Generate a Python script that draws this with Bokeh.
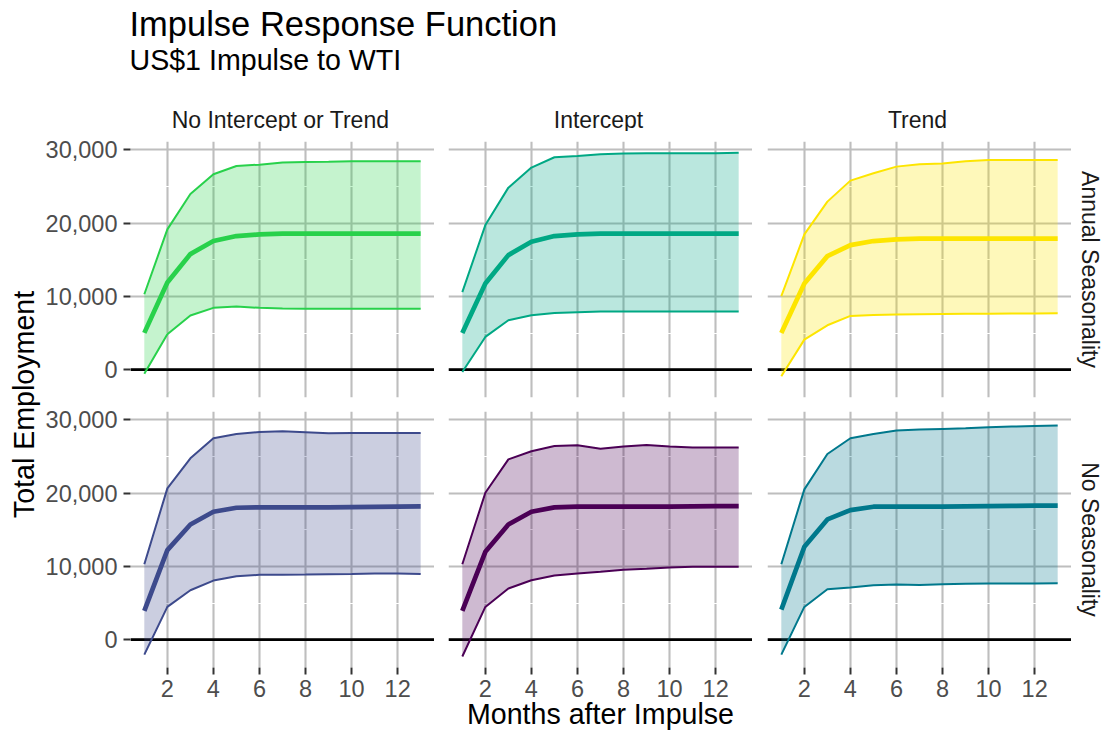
import math
from bokeh.plotting import figure
from bokeh.layouts import row, column
from bokeh.models import Range1d, FixedTicker, NumeralTickFormatter, Span, Label
from bokeh.embed import file_html
from bokeh.resources import INLINE

# ---------------- data ----------------
months = [1, 2, 3, 4, 5, 6, 7, 8, 9, 10, 11, 12, 13]

col_labels = ["No Intercept or Trend", "Intercept", "Trend"]
row_labels = ["Annual Seasonality", "No Seasonality"]
x_title = "Months after Impulse"
y_title = "Total Employment"

# Annual Seasonality
ann_none_lo = [-550, 4830, 7390, 8440, 8620, 8440, 8350, 8300, 8300, 8300, 8300, 8300, 8300]
ann_none_mid = [5020, 11900, 15780, 17560, 18240, 18470, 18560, 18560, 18560, 18560, 18560, 18560, 18560]
ann_none_hi = [10300, 19150, 23990, 26680, 27800, 27990, 28270, 28360, 28400, 28450, 28450, 28450, 28450]

ann_int_lo = [-320, 4470, 6750, 7430, 7750, 7840, 7930, 7930, 7930, 7930, 7930, 7930, 7930]
ann_int_mid = [5020, 11760, 15640, 17460, 18240, 18470, 18560, 18560, 18560, 18560, 18560, 18560, 18560]
ann_int_hi = [10580, 19740, 24850, 27590, 29000, 29180, 29410, 29500, 29550, 29550, 29550, 29550, 29600]

ann_trend_lo = [-910, 4100, 6060, 7340, 7480, 7520, 7560, 7600, 7620, 7640, 7660, 7680, 7700]
ann_trend_mid = [5020, 11760, 15500, 17010, 17560, 17780, 17880, 17880, 17880, 17880, 17880, 17880, 17880]
ann_trend_hi = [10030, 18470, 22940, 25810, 26810, 27720, 28040, 28140, 28450, 28640, 28640, 28640, 28640]

# No Seasonality
no_none_lo = [-2050, 4470, 6750, 8070, 8650, 8850, 8870, 8900, 8940, 8980, 9030, 9030, 8980]
no_none_mid = [3920, 12220, 15730, 17460, 18010, 18060, 18060, 18060, 18060, 18100, 18140, 18170, 18190]
no_none_hi = [10300, 20660, 24760, 27500, 28090, 28360, 28450, 28320, 28180, 28230, 28230, 28230, 28230]

no_int_lo = [-2300, 4470, 6980, 8120, 8760, 9030, 9260, 9530, 9670, 9850, 9940, 9940, 9940]
no_int_mid = [3920, 11990, 15730, 17460, 18060, 18150, 18150, 18150, 18150, 18170, 18200, 18220, 18240]
no_int_hi = [10300, 20060, 24620, 25720, 26450, 26540, 26080, 26360, 26580, 26360, 26220, 26220, 26220]

no_trend_lo = [-2050, 4470, 6890, 7110, 7430, 7520, 7480, 7570, 7620, 7660, 7660, 7680, 7700]
no_trend_mid = [4100, 12680, 16420, 17690, 18150, 18150, 18150, 18150, 18200, 18240, 18270, 18290, 18290]
no_trend_hi = [10300, 20520, 25350, 27500, 28090, 28550, 28680, 28770, 28860, 29000, 29090, 29180, 29230]

x_major = [2, 4, 6, 8, 10, 12]
x_minor = [1, 3, 5, 7, 9, 11, 13]
y_major = [0, 10000, 20000, 30000]
y_minor = [5000, 15000, 25000]

colors = [["#28D14B", "#00A884", "#FDE500"],
          ["#3D4A8C", "#4B0055", "#00788C"]]

series = [[(ann_none_lo, ann_none_mid, ann_none_hi),
           (ann_int_lo, ann_int_mid, ann_int_hi),
           (ann_trend_lo, ann_trend_mid, ann_trend_hi)],
          [(no_none_lo, no_none_mid, no_none_hi),
           (no_int_lo, no_int_mid, no_int_hi),
           (no_trend_lo, no_trend_mid, no_trend_hi)]]

FONT = "Liberation Sans"
TICK_FS = "23.5px"
STRIP_FS = "23px"
AXT_FS = "28.6px"
FW, FH = 304, 256
LEFT_B = [86, 14, 15]
TOP_B = 10
GAP_A = 7   # below top-row frames
GAP_B = 7   # above bottom-row frames
W_TOTAL, H_TOTAL = 1107, 733
HEADER_H = 141 - TOP_B
YLAB_W = 42
TOP_ROW_H = TOP_B + FH + GAP_A
BOT_B = H_TOTAL - HEADER_H - TOP_ROW_H - GAP_B - FH


def panel(r, c):
    bottom = r == 1
    left = c == 0
    p = figure(frame_width=FW, frame_height=FH,
               x_range=Range1d(0.4, 13.6), y_range=Range1d(-3800, 31150),
               x_axis_location="below" if bottom else None,
               y_axis_location="left" if left else None,
               min_border_left=LEFT_B[c], min_border_right=0,
               min_border_top=GAP_B if bottom else TOP_B,
               min_border_bottom=BOT_B if bottom else GAP_A,
               toolbar_location=None, output_backend="svg")
    p.outline_line_color = None
    p.background_fill_color = "white"
    p.border_fill_color = "white"
    xt = FixedTicker(ticks=x_major, minor_ticks=x_minor)
    yt = FixedTicker(ticks=y_major, minor_ticks=y_minor)
    for g in p.xgrid:
        g.ticker = xt
        if g.axis is not None:
            g.axis.ticker = xt
    for g in p.ygrid:
        g.ticker = yt
        if g.axis is not None:
            g.axis.ticker = yt
    for g in list(p.xgrid) + list(p.ygrid):
        g.grid_line_color = "#BEBEBE"
        g.grid_line_width = 2.1
        g.minor_grid_line_color = "white"
        g.minor_grid_line_width = 1.1
    axes = []
    if bottom:
        axes.append(p.xaxis[0])
    if left:
        ya = p.yaxis[0]
        ya.formatter = NumeralTickFormatter(format="0,0")
        axes.append(ya)
    for ax in axes:
        ax.axis_line_color = None
        ax.major_tick_out = 7
        ax.major_tick_in = 0
        ax.major_tick_line_color = "#333333"
        ax.major_tick_line_width = 2
        ax.minor_tick_line_color = None
        ax.major_label_text_font = FONT
        ax.major_label_text_font_size = TICK_FS
        ax.major_label_text_color = "#4D4D4D"
    if bottom:
        xa = p.xaxis[0]
        xa.major_label_standoff = 5
        if c == 1:
            xa.axis_label = x_title
            xa.axis_label_text_font = FONT
            xa.axis_label_text_font_size = AXT_FS
            xa.axis_label_text_font_style = "normal"
            xa.axis_label_text_color = "black"
            xa.axis_label_standoff = -2
    if left:
        p.yaxis[0].major_label_standoff = 6

    lo, mid, hi = series[r][c]
    col = colors[r][c]
    p.add_layout(Span(location=0, dimension="width", line_color="black",
                      line_width=2.6, level="underlay"))
    p.varea(x=months, y1=lo, y2=hi, fill_color=col, fill_alpha=0.27)
    p.line(months, hi, line_color=col, line_width=2)
    p.line(months, lo, line_color=col, line_width=2)
    p.line(months, mid, line_color=col, line_width=4.7)
    return p


def text_fig(w, h):
    p = figure(width=w, height=h, x_range=Range1d(0, w), y_range=Range1d(0, h),
               min_border=0, x_axis_location=None, y_axis_location=None,
               toolbar_location=None, output_backend="svg")
    p.grid.visible = False
    p.outline_line_color = None
    p.border_fill_color = "white"
    p.background_fill_color = "white"
    return p


panels = [[panel(r, c) for c in range(3)] for r in range(2)]

MID_H = H_TOTAL - HEADER_H
RSTRIP_W = W_TOTAL - YLAB_W - sum(FW + b for b in LEFT_B)

header = text_fig(W_TOTAL, HEADER_H)
header.add_layout(Label(x=129, y=HEADER_H - 23, text="Impulse Response Function", text_font=FONT,
                        text_font_size="34.5px", text_color="black", text_baseline="middle"))
header.add_layout(Label(x=129, y=HEADER_H - 59, text="US$1 Impulse to WTI", text_font=FONT,
                        text_font_size=AXT_FS, text_color="black", text_baseline="middle"))
xoff = YLAB_W
for c in range(3):
    xoff += LEFT_B[c]
    cx = xoff + FW / 2
    header.add_layout(Label(x=cx, y=HEADER_H - 119, text=col_labels[c], text_font=FONT,
                            text_font_size=STRIP_FS, text_color="#1A1A1A",
                            text_align="center", text_baseline="middle"))
    xoff += FW

ylab = text_fig(YLAB_W, MID_H)
ylab.add_layout(Label(x=23, y=MID_H - TOP_ROW_H, text=y_title,
                      text_font=FONT, text_font_size=AXT_FS, text_color="black",
                      angle=math.pi / 2, text_align="center", text_baseline="middle"))

rstrip = text_fig(RSTRIP_W, MID_H)
rstrip.add_layout(Label(x=18, y=MID_H - (TOP_B + FH / 2), text=row_labels[0], text_font=FONT,
                        text_font_size=STRIP_FS, text_color="#1A1A1A", angle=-math.pi / 2,
                        text_align="center", text_baseline="middle"))
rstrip.add_layout(Label(x=18, y=MID_H - (TOP_ROW_H + GAP_B + FH / 2), text=row_labels[1],
                        text_font=FONT, text_font_size=STRIP_FS, text_color="#1A1A1A",
                        angle=-math.pi / 2, text_align="center", text_baseline="middle"))

cols = [column(panels[0][c], panels[1][c]) for c in range(3)]
layout = column(header, row(ylab, *cols, rstrip))

open("out.html", "w").write(file_html(layout, INLINE))
